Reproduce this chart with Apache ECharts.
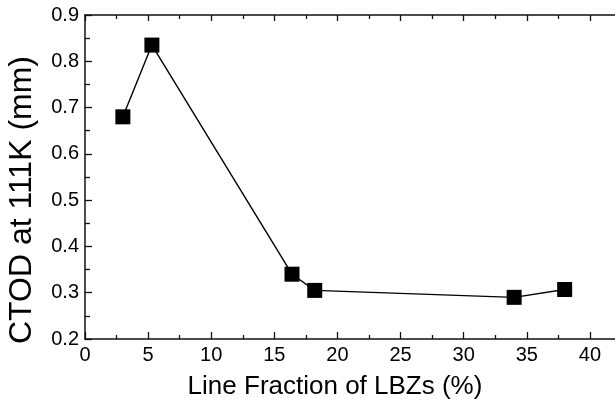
<!DOCTYPE html>
<html>
<head>
<meta charset="utf-8">
<script src="https://cdn.jsdelivr.net/npm/echarts@6/dist/echarts.min.js"></script>
<style>
  html, body { margin: 0; padding: 0; background: #fff; overflow: hidden; }
  #chart { width: 700px; height: 403px; }
</style>
</head>
<body>
<div id="chart"></div>
<script>
// line fraction of LBZs (%) vs CTOD at 111K (mm)
var lbzFraction = [3.0, 5.3, 16.4, 18.2, 34.0, 38.0];
var ctod = [0.68, 0.835, 0.34, 0.305, 0.29, 0.307];
var xTitle = 'Line Fraction of LBZs (%)';
var yTitle = 'CTOD at 111K (mm)';

// the plot runs past the right edge of the 615px window (cropped original),
// so the canvas is wider and the extra part is clipped
var chart = echarts.init(document.getElementById('chart'), null, {renderer: 'canvas'});

var pts = [];
for (var i = 0; i < lbzFraction.length; ++i) {
    pts.push([lbzFraction[i], ctod[i]]);
}

var axisCol = '#111';
var font = 'Liberation Sans, Arial, sans-serif';

var option = {
    backgroundColor: '#fff',
    animation: false,
    grid: {left: 85, right: 47, top: 15, bottom: 64, show: false, outerBoundsMode: 'none'},
    xAxis: [{
        type: 'value', min: 0, max: 45, interval: 5,
        position: 'bottom',
        name: xTitle, nameLocation: 'middle', nameGap: 35,
        nameTextStyle: {fontFamily: font, fontSize: 26, color: '#000', padding: [0, 68, 0, 0]},
        splitLine: {show: false},
        axisLine: {onZero: false, lineStyle: {color: axisCol, width: 1.5}},
        axisTick: {inside: true, length: 7, lineStyle: {color: axisCol, width: 1.3}},
        minorTick: {show: true, splitNumber: 2, length: 4, lineStyle: {color: axisCol, width: 1.3}},
        axisLabel: {fontFamily: font, fontSize: 20, color: '#000', margin: 6}
    }, {
        type: 'value', min: 0, max: 45, interval: 5,
        position: 'top',
        splitLine: {show: false},
        axisLine: {onZero: false, lineStyle: {color: axisCol, width: 1.5}},
        axisTick: {inside: true, length: 6, lineStyle: {color: axisCol, width: 1.3}},
        minorTick: {show: true, splitNumber: 2, length: 4, lineStyle: {color: axisCol, width: 1.3}},
        axisLabel: {show: false}
    }],
    yAxis: [{
        type: 'value', min: 0.2, max: 0.9, interval: 0.1,
        name: yTitle, nameLocation: 'middle', nameGap: 47,
        nameTextStyle: {fontFamily: font, fontSize: 32, color: '#000', padding: [0, 46, 0, 0]},
        splitLine: {show: false},
        axisLine: {onZero: false, lineStyle: {color: axisCol, width: 1.5}},
        axisTick: {inside: true, length: 7, lineStyle: {color: axisCol, width: 1.3}},
        minorTick: {show: true, splitNumber: 2, length: 5, lineStyle: {color: axisCol, width: 1.3}},
        axisLabel: {fontFamily: font, fontSize: 20, color: '#000', margin: 6,
            formatter: function (v) { return v.toFixed(1); }}
    }, {
        type: 'value', min: 0.2, max: 0.9, interval: 0.1,
        position: 'right',
        splitLine: {show: false},
        axisLine: {onZero: false, lineStyle: {color: axisCol, width: 1.5}},
        axisTick: {inside: true, length: 7, lineStyle: {color: axisCol, width: 1.3}},
        axisLabel: {show: false}
    }],
    series: [{
        type: 'line',
        xAxisIndex: 0, yAxisIndex: 0,
        data: pts,
        symbol: 'rect', symbolSize: 15,
        itemStyle: {color: '#000'},
        lineStyle: {color: '#000', width: 1.4}
    }]
};

chart.setOption(option);
</script>
</body>
</html>
